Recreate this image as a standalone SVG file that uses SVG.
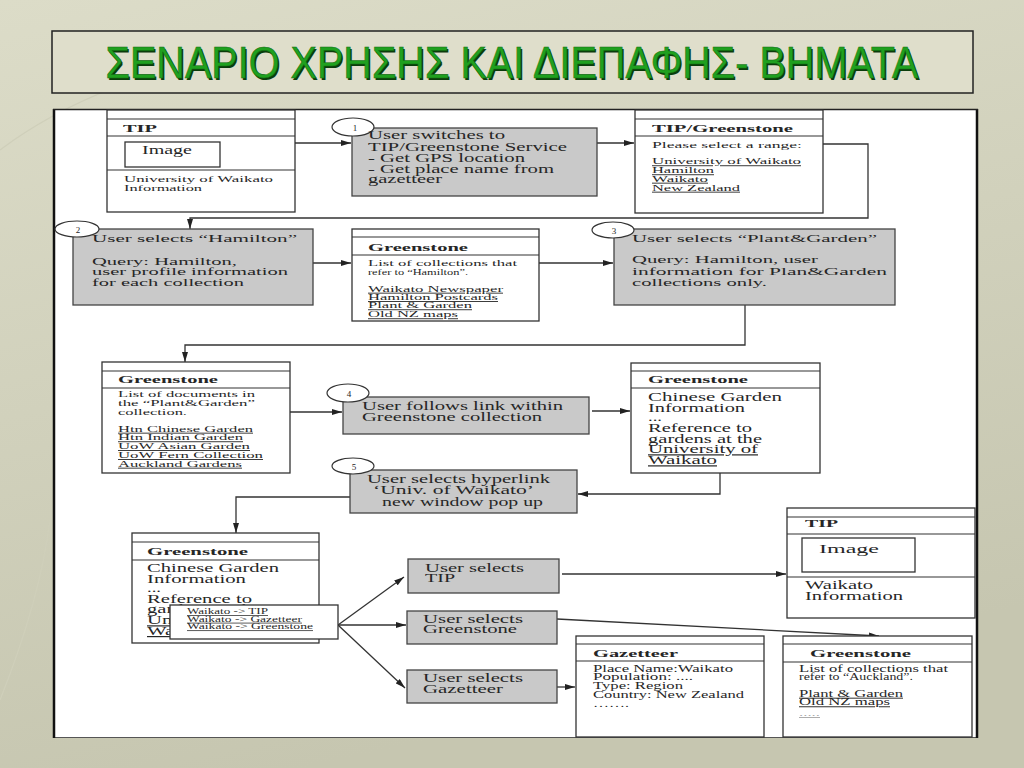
<svg xmlns="http://www.w3.org/2000/svg" width="1024" height="768" viewBox="0 0 1024 768">
<style>
.t{font-family:"Liberation Serif","Times New Roman",serif;fill:#262626}
.b{font-weight:bold}
.u{text-decoration:underline}
.box{fill:#fff;stroke:#333;stroke-width:1.3}
.gbox{fill:#c9c9c9;stroke:#444;stroke-width:1.3}
.hl{stroke:#333;stroke-width:1.2}
.conn{fill:none;stroke:#333;stroke-width:1.3}
.circ{fill:#fff;stroke:#333;stroke-width:1.2}
</style>
<defs>
<linearGradient id="bg" x1="0" y1="0" x2="0.3" y2="1">
<stop offset="0" stop-color="#dcdcc8"/>
<stop offset="1" stop-color="#c6c6b0"/>
</linearGradient>
<marker id="ah" viewBox="0 0 10 6" refX="10" refY="3" markerWidth="10" markerHeight="6" markerUnits="userSpaceOnUse" orient="auto">
<path d="M0,0 L10,3 L0,6 Z" fill="#222"/>
</marker>
</defs>
<rect width="1024" height="768" fill="url(#bg)"/>
<g fill="none" stroke="#cfcfba" stroke-width="1.2">
<path d="M0,150 Q120,60 330,40"/>
<path d="M0,700 Q40,600 50,520"/>
</g>
<g id="title">
<rect x="52" y="31" width="921" height="62" fill="#dfdecb" stroke="#222" stroke-width="1.5"/>
<text x="513.5" y="79.5" text-anchor="middle" textLength="813" lengthAdjust="spacingAndGlyphs" font-family="'Liberation Sans Narrow','Liberation Sans',Arial,sans-serif" font-size="44" fill="#0b3d0b">ΣΕΝΑΡΙΟ ΧΡΗΣΗΣ ΚΑΙ ΔΙΕΠΑΦΗΣ- ΒΗΜΑΤΑ</text>
<text x="512" y="78" text-anchor="middle" textLength="813" lengthAdjust="spacingAndGlyphs" font-family="'Liberation Sans Narrow','Liberation Sans',Arial,sans-serif" font-size="44" fill="#1fa01f" stroke="#137013" stroke-width="0.6">ΣΕΝΑΡΙΟ ΧΡΗΣΗΣ ΚΑΙ ΔΙΕΠΑΦΗΣ- ΒΗΜΑΤΑ</text>
</g>
<g id="panel">
<rect x="53.5" y="109.5" width="924" height="628" fill="#fff" stroke="#555" stroke-width="1"/>
<line x1="54" y1="109" x2="54" y2="738" stroke="#111" stroke-width="2.5"/>
<line x1="977" y1="109" x2="977" y2="738" stroke="#111" stroke-width="2.5"/>
<line x1="53" y1="109.5" x2="978" y2="109.5" stroke="#222" stroke-width="1.5"/>
</g>
<g id="connectors" class="conn">
<path d="M295,143 H351" marker-end="url(#ah)"/>
<path d="M597,143 H634" marker-end="url(#ah)"/>
<path d="M823,144 H868 V218 H190 V229" marker-end="url(#ah)"/>
<path d="M313,263 H351" marker-end="url(#ah)"/>
<path d="M539,263 H613" marker-end="url(#ah)"/>
<path d="M745,305 V345 H185 V362" marker-end="url(#ah)"/>
<path d="M290,412 H342" marker-end="url(#ah)"/>
<path d="M592,411 H630" marker-end="url(#ah)"/>
<path d="M720,473 V494 H578" marker-end="url(#ah)"/>
<path d="M350,497 H236 V533" marker-end="url(#ah)"/>
<path d="M338,625 L404,577" marker-end="url(#ah)"/>
<path d="M338,625 L406,625" marker-end="url(#ah)"/>
<path d="M338,625 L405,688" marker-end="url(#ah)"/>
<path d="M562,574 H786" marker-end="url(#ah)"/>
<path d="M557,619 L879,636" marker-end="url(#ah)"/>
<path d="M557,687 H575" marker-end="url(#ah)"/>
</g>
<g id="tip1">
<rect class="box" x="107" y="110" width="188" height="102"/>
<line class="hl" x1="107" y1="119" x2="295" y2="119"/>
<line class="hl" x1="107" y1="136" x2="295" y2="136"/>
<line class="hl" x1="107" y1="170" x2="295" y2="170"/>
<rect class="box" x="125" y="142" width="95" height="25"/>
<text class="t b" x="123" y="131.5" font-size="10" textLength="34" lengthAdjust="spacingAndGlyphs">TIP</text>
<text class="t" x="142" y="154" font-size="12" textLength="50" lengthAdjust="spacingAndGlyphs">Image</text>
<text class="t" x="124" y="182" font-size="9" textLength="149" lengthAdjust="spacingAndGlyphs">University of Waikato</text>
<text class="t" x="124" y="190.5" font-size="9" textLength="78" lengthAdjust="spacingAndGlyphs">Information</text>
</g>
<g id="step1">
<rect class="gbox" x="352" y="128" width="245" height="68"/>
<ellipse class="circ" cx="353" cy="127" rx="21" ry="9"/>
<text class="t" x="355" y="130.5" font-size="9" text-anchor="middle">1</text>
<text class="t" x="368" y="139.3" font-size="11.5" textLength="137" lengthAdjust="spacingAndGlyphs">User switches to</text>
<text class="t" x="368" y="150.7" font-size="11.5" textLength="199" lengthAdjust="spacingAndGlyphs">TIP/Greenstone Service</text>
<text class="t" x="368" y="161.7" font-size="11.5" textLength="157" lengthAdjust="spacingAndGlyphs">- Get GPS location</text>
<text class="t" x="368" y="172.7" font-size="11.5" textLength="186" lengthAdjust="spacingAndGlyphs">- Get place name from</text>
<text class="t" x="368" y="183.3" font-size="11.5" textLength="74" lengthAdjust="spacingAndGlyphs">gazetteer</text>
</g>
<g id="tipgreenstone">
<rect class="box" x="635" y="110" width="188" height="103"/>
<line class="hl" x1="635" y1="119" x2="823" y2="119"/>
<line class="hl" x1="635" y1="136" x2="823" y2="136"/>
<text class="t b" x="652" y="132" font-size="10" textLength="141" lengthAdjust="spacingAndGlyphs">TIP/Greenstone</text>
<text class="t" x="652" y="147.7" font-size="9" textLength="150" lengthAdjust="spacingAndGlyphs">Please select a range:</text>
<text class="t u" x="652" y="164.3" font-size="9" textLength="149" lengthAdjust="spacingAndGlyphs">University of Waikato</text>
<text class="t u" x="652" y="173.3" font-size="9" textLength="62" lengthAdjust="spacingAndGlyphs">Hamilton</text>
<text class="t u" x="652" y="181.7" font-size="9" textLength="56" lengthAdjust="spacingAndGlyphs">Waikato</text>
<text class="t u" x="652" y="190.7" font-size="9" textLength="88" lengthAdjust="spacingAndGlyphs">New Zealand</text>
</g>
<g id="step2">
<rect class="gbox" x="73" y="229" width="240" height="76"/>
<ellipse class="circ" cx="77" cy="229" rx="22" ry="8"/>
<text class="t" x="78" y="232.5" font-size="9" text-anchor="middle">2</text>
<text class="t" x="92" y="241.7" font-size="11" textLength="205" lengthAdjust="spacingAndGlyphs">User selects “Hamilton”</text>
<text class="t" x="92" y="265" font-size="11" textLength="145" lengthAdjust="spacingAndGlyphs">Query: Hamilton,</text>
<text class="t" x="92" y="275" font-size="11" textLength="196" lengthAdjust="spacingAndGlyphs">user profile information</text>
<text class="t" x="92" y="285.5" font-size="11" textLength="152" lengthAdjust="spacingAndGlyphs">for each collection</text>
</g>
<g id="greenstone-hamilton">
<rect class="box" x="352" y="229" width="187" height="92"/>
<line class="hl" x1="352" y1="237" x2="539" y2="237"/>
<line class="hl" x1="352" y1="255" x2="539" y2="255"/>
<text class="t b" x="368" y="250.7" font-size="10.5" textLength="100" lengthAdjust="spacingAndGlyphs">Greenstone</text>
<text class="t" x="368" y="265.7" font-size="9" textLength="149" lengthAdjust="spacingAndGlyphs">List of collections that</text>
<text class="t" x="368" y="275" font-size="9" textLength="100" lengthAdjust="spacingAndGlyphs">refer to “Hamilton”.</text>
<text class="t u" x="368" y="291.7" font-size="9" textLength="135" lengthAdjust="spacingAndGlyphs">Waikato Newspaper</text>
<text class="t u" x="368" y="300" font-size="9" textLength="130" lengthAdjust="spacingAndGlyphs">Hamilton Postcards</text>
<text class="t u" x="368" y="308.3" font-size="9" textLength="104" lengthAdjust="spacingAndGlyphs">Plant &amp; Garden</text>
<text class="t u" x="368" y="317.3" font-size="9" textLength="90" lengthAdjust="spacingAndGlyphs">Old NZ maps</text>
</g>
<g id="step3">
<rect class="gbox" x="614" y="229" width="281" height="76"/>
<ellipse class="circ" cx="613" cy="230" rx="21" ry="8"/>
<text class="t" x="614" y="233.5" font-size="9" text-anchor="middle">3</text>
<text class="t" x="632" y="241.7" font-size="11" textLength="245" lengthAdjust="spacingAndGlyphs">User selects “Plant&amp;Garden”</text>
<text class="t" x="632" y="263.3" font-size="11" textLength="186" lengthAdjust="spacingAndGlyphs">Query: Hamilton, user</text>
<text class="t" x="632" y="275" font-size="11" textLength="255" lengthAdjust="spacingAndGlyphs">information for Plan&amp;Garden</text>
<text class="t" x="632" y="285.7" font-size="11" textLength="135" lengthAdjust="spacingAndGlyphs">collections only.</text>
</g>
<g id="greenstone-docs">
<rect class="box" x="102" y="362" width="188" height="111"/>
<line class="hl" x1="102" y1="371" x2="290" y2="371"/>
<line class="hl" x1="102" y1="388" x2="290" y2="388"/>
<text class="t b" x="118" y="383.3" font-size="10.5" textLength="100" lengthAdjust="spacingAndGlyphs">Greenstone</text>
<text class="t" x="118" y="396.7" font-size="9" textLength="137" lengthAdjust="spacingAndGlyphs">List of documents in</text>
<text class="t" x="118" y="406" font-size="9" textLength="137" lengthAdjust="spacingAndGlyphs">the “Plant&amp;Garden”</text>
<text class="t" x="118" y="415" font-size="9" textLength="69" lengthAdjust="spacingAndGlyphs">collection.</text>
<text class="t u" x="118" y="431.7" font-size="9" textLength="135" lengthAdjust="spacingAndGlyphs">Htn Chinese Garden</text>
<text class="t u" x="118" y="440.3" font-size="9" textLength="125" lengthAdjust="spacingAndGlyphs">Htn Indian Garden</text>
<text class="t u" x="118" y="449" font-size="9" textLength="132" lengthAdjust="spacingAndGlyphs">UoW Asian Garden</text>
<text class="t u" x="118" y="458" font-size="9" textLength="145" lengthAdjust="spacingAndGlyphs">UoW Fern Collection</text>
<text class="t u" x="118" y="466.7" font-size="9" textLength="124" lengthAdjust="spacingAndGlyphs">Auckland Gardens</text>
</g>
<g id="step4">
<rect class="gbox" x="343" y="397" width="246" height="37"/>
<ellipse class="circ" cx="348" cy="393" rx="21" ry="9"/>
<text class="t" x="349" y="396.5" font-size="9" text-anchor="middle">4</text>
<text class="t" x="362" y="410" font-size="11.5" textLength="201" lengthAdjust="spacingAndGlyphs">User follows link within</text>
<text class="t" x="362" y="421" font-size="11.5" textLength="180" lengthAdjust="spacingAndGlyphs">Greenstone collection</text>
</g>
<g id="greenstone-chinese1">
<rect class="box" x="631" y="363" width="189" height="110"/>
<line class="hl" x1="631" y1="371" x2="820" y2="371"/>
<line class="hl" x1="631" y1="388" x2="820" y2="388"/>
<text class="t b" x="648" y="383.3" font-size="10.5" textLength="100" lengthAdjust="spacingAndGlyphs">Greenstone</text>
<text class="t" x="648" y="401" font-size="12" textLength="134" lengthAdjust="spacingAndGlyphs">Chinese Garden</text>
<text class="t" x="648" y="411.7" font-size="12" textLength="97" lengthAdjust="spacingAndGlyphs">Information</text>
<text class="t" x="648" y="421" font-size="12" textLength="14" lengthAdjust="spacingAndGlyphs">...</text>
<text class="t" x="648" y="431.7" font-size="12" textLength="104" lengthAdjust="spacingAndGlyphs">Reference to</text>
<text class="t" x="648" y="442.7" font-size="12" textLength="114" lengthAdjust="spacingAndGlyphs">gardens at the</text>
<text class="t u" x="648" y="453.3" font-size="12" textLength="110" lengthAdjust="spacingAndGlyphs">University of</text>
<text class="t u" x="648" y="464.3" font-size="12" textLength="69" lengthAdjust="spacingAndGlyphs">Waikato</text>
</g>
<g id="step5">
<rect class="gbox" x="350" y="470" width="227" height="43"/>
<ellipse class="circ" cx="353" cy="466" rx="21" ry="8"/>
<text class="t" x="354" y="469.5" font-size="9" text-anchor="middle">5</text>
<text class="t" x="367" y="482.7" font-size="11.5" textLength="183" lengthAdjust="spacingAndGlyphs">User selects hyperlink</text>
<text class="t" x="373" y="494" font-size="11.5" textLength="161" lengthAdjust="spacingAndGlyphs">‘Univ. of Waikato’</text>
<text class="t" x="382" y="505.7" font-size="11.5" textLength="161" lengthAdjust="spacingAndGlyphs">new window pop up</text>
</g>
<g id="greenstone-chinese2">
<rect class="box" x="132" y="533" width="187" height="110"/>
<line class="hl" x1="132" y1="542" x2="319" y2="542"/>
<line class="hl" x1="132" y1="560" x2="319" y2="560"/>
<text class="t b" x="147" y="555" font-size="10.5" textLength="101" lengthAdjust="spacingAndGlyphs">Greenstone</text>
<text class="t" x="147" y="571.7" font-size="12" textLength="132" lengthAdjust="spacingAndGlyphs">Chinese Garden</text>
<text class="t" x="147" y="582.7" font-size="12" textLength="99" lengthAdjust="spacingAndGlyphs">Information</text>
<text class="t" x="147" y="591.5" font-size="12" textLength="14" lengthAdjust="spacingAndGlyphs">...</text>
<text class="t" x="147" y="602.7" font-size="12" textLength="105" lengthAdjust="spacingAndGlyphs">Reference to</text>
<text class="t" x="147" y="613.3" font-size="12" textLength="114" lengthAdjust="spacingAndGlyphs">gardens at the</text>
<text class="t u" x="147" y="624.3" font-size="12" textLength="110" lengthAdjust="spacingAndGlyphs">University of</text>
<text class="t u" x="147" y="635" font-size="12" textLength="69" lengthAdjust="spacingAndGlyphs">Waikato</text>
</g>
<g id="popup">
<rect class="box" x="170" y="605" width="168" height="34" stroke-width="1"/>
<text class="t u" x="187" y="614" font-size="7.5" textLength="81" lengthAdjust="spacingAndGlyphs">Waikato -&gt; TIP</text>
<text class="t u" x="187" y="621.7" font-size="7.5" textLength="115" lengthAdjust="spacingAndGlyphs">Waikato -&gt; Gazetteer</text>
<text class="t u" x="187" y="629.3" font-size="7.5" textLength="126" lengthAdjust="spacingAndGlyphs">Waikato -&gt; Greenstone</text>
</g>
<g id="select-tip">
<rect class="gbox" x="408" y="559" width="151" height="34"/>
<text class="t" x="425" y="571.7" font-size="11.5" textLength="99" lengthAdjust="spacingAndGlyphs">User selects</text>
<text class="t" x="425" y="582.3" font-size="11.5" textLength="30" lengthAdjust="spacingAndGlyphs">TIP</text>
</g>
<g id="select-greenstone">
<rect class="gbox" x="407" y="611" width="150" height="33"/>
<text class="t" x="423" y="622.7" font-size="11.5" textLength="100" lengthAdjust="spacingAndGlyphs">User selects</text>
<text class="t" x="423" y="633.3" font-size="11.5" textLength="94" lengthAdjust="spacingAndGlyphs">Greenstone</text>
</g>
<g id="select-gazetteer">
<rect class="gbox" x="407" y="670" width="150" height="33"/>
<text class="t" x="423" y="681.7" font-size="11.5" textLength="100" lengthAdjust="spacingAndGlyphs">User selects</text>
<text class="t" x="423" y="692.7" font-size="11.5" textLength="80" lengthAdjust="spacingAndGlyphs">Gazetteer</text>
</g>
<g id="gazetteer">
<rect class="box" x="576" y="636" width="188" height="101"/>
<line class="hl" x1="576" y1="644" x2="764" y2="644"/>
<line class="hl" x1="576" y1="661" x2="764" y2="661"/>
<text class="t b" x="593" y="657.3" font-size="10.5" textLength="85" lengthAdjust="spacingAndGlyphs">Gazetteer</text>
<text class="t" x="593" y="671.7" font-size="9.5" textLength="140" lengthAdjust="spacingAndGlyphs">Place Name:Waikato</text>
<text class="t" x="593" y="680.3" font-size="9.5" textLength="100" lengthAdjust="spacingAndGlyphs">Population: ....</text>
<text class="t" x="593" y="689" font-size="9.5" textLength="90" lengthAdjust="spacingAndGlyphs">Type: Region</text>
<text class="t" x="593" y="697.7" font-size="9.5" textLength="151" lengthAdjust="spacingAndGlyphs">Country: New Zealand</text>
<text class="t" x="593" y="706.7" font-size="9.5" textLength="36" lengthAdjust="spacingAndGlyphs">…….</text>
</g>
<g id="tip2">
<rect class="box" x="787" y="508" width="188" height="110"/>
<line class="hl" x1="787" y1="517" x2="975" y2="517"/>
<line class="hl" x1="787" y1="534" x2="975" y2="534"/>
<line class="hl" x1="787" y1="577" x2="975" y2="577"/>
<rect class="box" x="802" y="538" width="113" height="34"/>
<text class="t b" x="805" y="527.3" font-size="10.5" textLength="33" lengthAdjust="spacingAndGlyphs">TIP</text>
<text class="t" x="819" y="552.7" font-size="13" textLength="60" lengthAdjust="spacingAndGlyphs">Image</text>
<text class="t" x="805" y="589.3" font-size="12" textLength="68" lengthAdjust="spacingAndGlyphs">Waikato</text>
<text class="t" x="805" y="600" font-size="12" textLength="98" lengthAdjust="spacingAndGlyphs">Information</text>
</g>
<g id="greenstone-auckland">
<rect class="box" x="783" y="636" width="189" height="101"/>
<line class="hl" x1="783" y1="644" x2="972" y2="644"/>
<line class="hl" x1="783" y1="662" x2="972" y2="662"/>
<text class="t b" x="810" y="657.3" font-size="10.5" textLength="101" lengthAdjust="spacingAndGlyphs">Greenstone</text>
<text class="t" x="799" y="671.7" font-size="9.5" textLength="149" lengthAdjust="spacingAndGlyphs">List of collections that</text>
<text class="t" x="799" y="680.3" font-size="9.5" textLength="114" lengthAdjust="spacingAndGlyphs">refer to “Auckland”.</text>
<text class="t u" x="799" y="696.7" font-size="9.5" textLength="104" lengthAdjust="spacingAndGlyphs">Plant &amp; Garden</text>
<text class="t u" x="799" y="705.3" font-size="9.5" textLength="91" lengthAdjust="spacingAndGlyphs">Old NZ maps</text>
<text class="t u" x="799" y="716" font-size="8" textLength="21" lengthAdjust="spacingAndGlyphs" style="fill:#999">.....</text>
</g>
</svg>
